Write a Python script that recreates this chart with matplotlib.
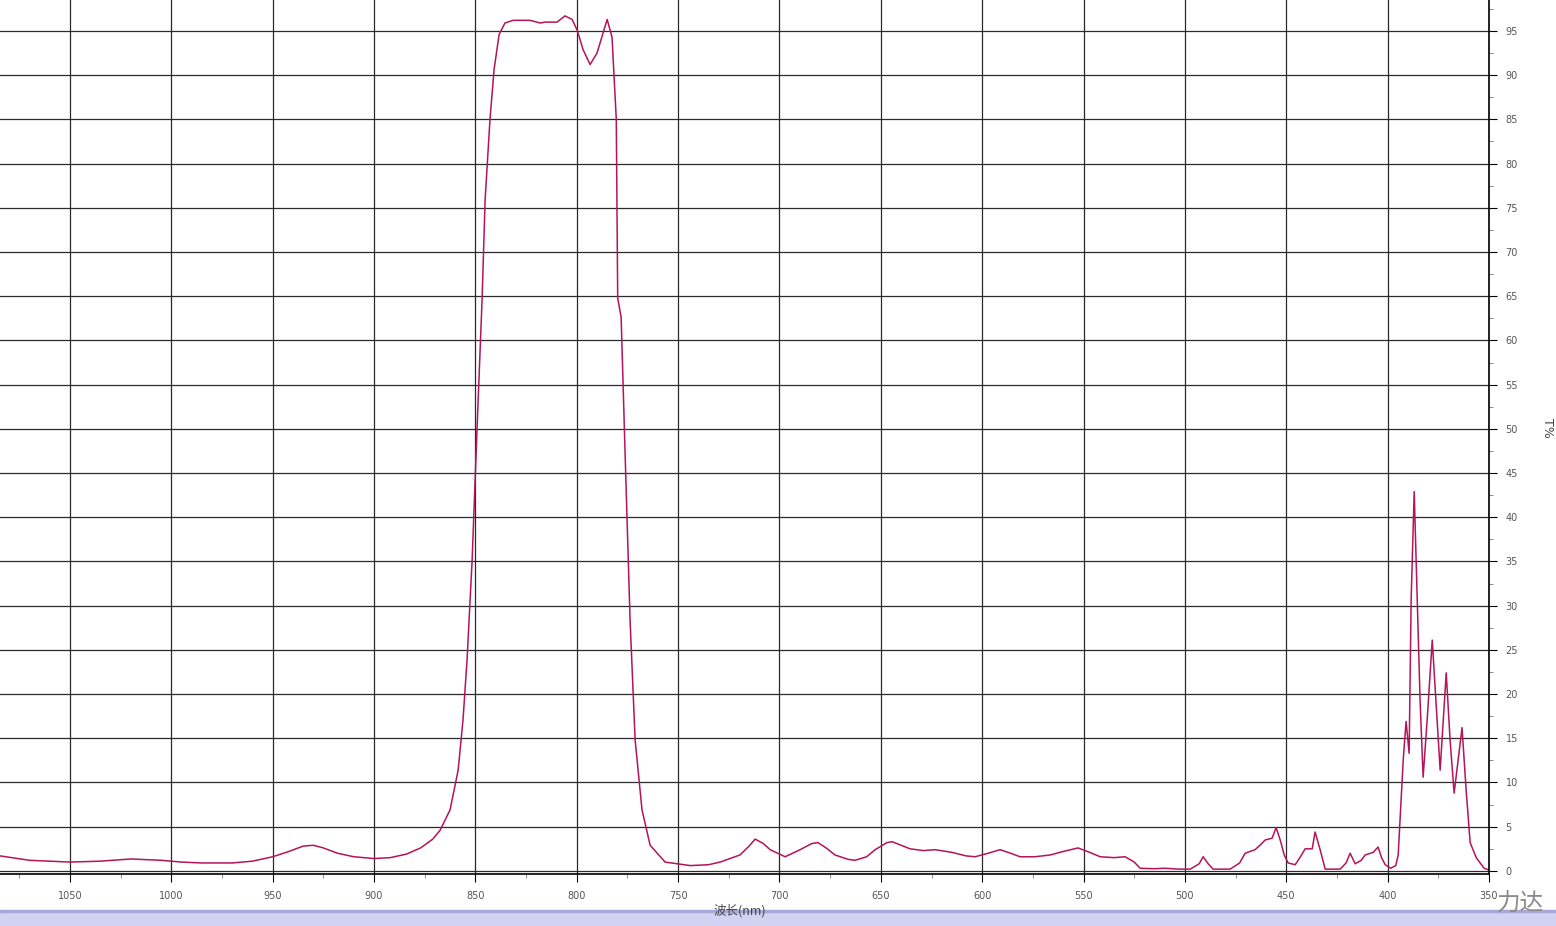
import matplotlib
matplotlib.use("Agg")
import matplotlib.pyplot as plt
from matplotlib.ticker import MultipleLocator

# transmission spectrum (nm, T%)
wavelength = [1084.5, 1070, 1050, 1035, 1020, 1005, 995, 985, 970, 960, 950, 942, 935, 930, 925,
              918, 910, 900, 892, 884, 877, 871, 867.4, 862.5, 858.5, 856.1, 854.1, 851.6, 849.2,
              846.7, 845.2, 842.8, 840.8, 838.3, 835.4, 831.4, 823.0, 818.1, 815.6, 809.7, 805.8,
              802.3, 799.8, 796.9, 793.4, 790.0, 785.0, 782.6, 780.5, 779.8, 778.1, 776.2, 773.7,
              771.2, 767.8, 763.8, 756.4, 744, 735, 729.3, 719.5, 715, 712, 708, 704.6, 697.2,
              689.8, 684, 681, 677, 672.6, 666, 662.7, 657, 652.8, 647, 644.4, 640, 635.6, 629,
              623.2, 615, 608, 603.5, 597, 591.2, 586, 581.3, 574, 566.5, 560, 552.7, 547, 541.8,
              535, 529.5, 525, 522.1, 515, 509.8, 503, 497.4, 493, 491, 488.5, 486.1, 477.7, 473,
              470.3, 465.4, 462.5, 460.4, 457, 455, 453, 451, 449.1, 445.6, 443, 440.7, 437.2,
              435.8, 433.3, 430.8, 423.4, 420.5, 418.5, 416, 413, 411.1, 407.1, 404.7, 403, 401.2,
              398.5, 396, 394.8, 392.3, 390.9, 389.4, 388.4, 386.9, 385.4, 384, 382.5, 380.5, 378,
              376, 374.1, 371.1, 369.2, 367.2, 365.2, 363.3, 361.3, 359.3, 356.3, 352.4, 350]
transmittance = [1.7, 1.2, 1.0, 1.1, 1.35, 1.2, 1.0, 0.9, 0.9, 1.1, 1.6, 2.2, 2.8, 2.9, 2.6,
                 2.0, 1.6, 1.4, 1.5, 1.9, 2.6, 3.6, 4.6, 6.9, 11.4, 17.1, 23.9, 35.2, 49.9,
                 64.6, 75.9, 85.0, 90.6, 94.6, 95.9, 96.2, 96.2, 95.9, 96.0, 96.0, 96.7,
                 96.3, 95.1, 92.9, 91.2, 92.5, 96.3, 94.3, 85.0, 64.8, 62.6, 47.6, 28.4,
                 14.8, 6.9, 2.9, 1.0, 0.6, 0.7, 1.0, 1.8, 2.8, 3.6, 3.1, 2.4, 1.6,
                 2.4, 3.1, 3.2, 2.6, 1.8, 1.3, 1.2, 1.6, 2.4, 3.2, 3.3, 2.9, 2.5, 2.3,
                 2.4, 2.1, 1.7, 1.6, 2.0, 2.4, 2.0, 1.6, 1.6, 1.8, 2.2, 2.6, 2.1, 1.6,
                 1.5, 1.6, 1.0, 0.3, 0.25, 0.3, 0.2, 0.2, 0.8, 1.6, 0.8, 0.2, 0.2, 0.9,
                 2.0, 2.4, 3.0, 3.5, 3.7, 4.9, 3.5, 1.8, 0.9, 0.7, 1.6, 2.5, 2.5,
                 4.4, 2.4, 0.2, 0.2, 0.9, 2.0, 0.8, 1.2, 1.8, 2.1, 2.7, 1.5, 0.7,
                 0.3, 0.6, 1.8, 12.6, 16.9, 13.3, 30.7, 42.9, 30.7, 19.3, 10.6, 17.1, 26.1,
                 18.5, 11.4, 22.4, 14.8, 8.8, 12.6, 16.2, 9.2, 3.2, 1.5, 0.3, 0.1]

x_ticks = [350, 400, 450, 500, 550, 600, 650, 700, 750, 800, 850, 900, 950, 1000, 1050]
y_ticks = [0, 5, 10, 15, 20, 25, 30, 35, 40, 45, 50, 55, 60, 65, 70, 75, 80, 85, 90, 95]

plt.rcParams['font.family'] = ['DejaVu Sans']

fig = plt.figure(figsize=(15.56, 9.26), dpi=100)
ax = fig.add_axes([0.0, 1 - 874 / 926, 1489 / 1556, 874 / 926])

ax.plot(wavelength, transmittance, color='#b4145a', lw=1.1)

ax.set_xlim(1084.5, 350)
ax.set_ylim(-0.35, 98.5)
ax.set_xticks(x_ticks)
ax.set_yticks(y_ticks)
ax.xaxis.set_minor_locator(MultipleLocator(25))
ax.yaxis.set_minor_locator(MultipleLocator(2.5))
ax.yaxis.tick_right()
ax.grid(True, which='major', color='#2a2a2a', lw=0.9)
ax.tick_params(which='major', length=6, width=0.8, labelsize=7, labelcolor='#555555', pad=6)
ax.tick_params(which='minor', length=3, width=0.6, color='#777777')

for side in ['top', 'left']:
    ax.spines[side].set_visible(False)
ax.spines['right'].set_linewidth(1.2)
ax.spines['bottom'].set_linewidth(1.2)

# bottom band and labels
fig.patches.append(plt.Rectangle((0, 0), 1, 14 / 926, transform=fig.transFigure,
                                 color='#d2d2f2', zorder=0))
fig.patches.append(plt.Rectangle((0, 14 / 926), 1, 2 / 926, transform=fig.transFigure,
                                 color='#a8a8d8', zorder=0))
fig.text(740 / 1556, 1 - 911 / 926, '波长(nm)', ha='center', va='center', fontsize=9,
         color='#444444', family=['Noto Sans CJK SC', 'DejaVu Sans'])
fig.text(1548 / 1556, 1 - 428 / 926, 'T%', ha='center', va='center', fontsize=9,
         rotation=270, color='#444444')
fig.text(1520 / 1556, 1 - 904 / 926, '力达', ha='center', va='center', fontsize=17,
         color='#8a8a8a', family=['Noto Sans CJK SC', 'DejaVu Sans'])

fig.savefig('out.png', dpi=100)
